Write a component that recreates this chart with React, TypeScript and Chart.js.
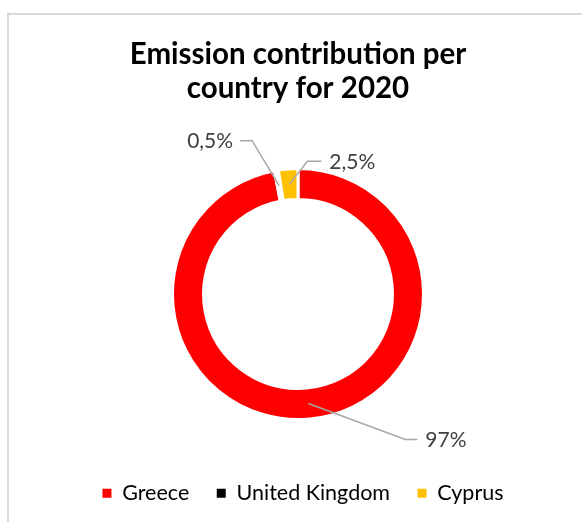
import React, { useEffect, useRef } from "react";
import { Chart, registerables } from "chart.js";

Chart.register(...registerables);

const categories = ["Greece", "United Kingdom", "Cyprus"];
const shares = [97, 0.5, 2.5];
const titleLines = ["Emission contribution per", "country for 2020"];

const sliceColors = ["#ff0000", "#ffffff", "#ffc000"];
const legendColors = ["#ff0000", "#000000", "#ffc000"];

const fmt = (v: number) => String(v).replace(".", ",") + "%";

const leaderPlugin = {
  id: "leaderLabels",
  afterLayout(chart: any, _args: any, opts: any) {
    if (chart.legend) {
      chart.legend.left += opts.legendShift;
      chart.legend.right += opts.legendShift;
    }
  },
  afterDatasetsDraw(chart: any, _args: any, opts: any) {
    const ctx = chart.ctx;
    const meta = chart.getDatasetMeta(0);
    const data = chart.data.datasets[0].data as number[];
    meta.data.forEach((arc: any, i: number) => {
      const p = arc.getProps(["x", "y", "startAngle", "endAngle", "innerRadius", "outerRadius"], true);
      const mid = (p.startAngle + p.endAngle) / 2;
      const r = (p.innerRadius + p.outerRadius) / 2;
      const ax = p.x + r * Math.cos(mid);
      const ay = p.y + r * Math.sin(mid);
      const o = opts.leaders[i];
      const ex = ax + o.dx;
      const ey = ay + o.dy;
      const hx = ex + o.h;
      ctx.save();
      ctx.strokeStyle = "#a6a6a6";
      ctx.lineWidth = 1.5;
      ctx.beginPath();
      ctx.moveTo(ax, ay);
      ctx.lineTo(ex, ey);
      ctx.lineTo(hx, ey);
      ctx.stroke();
      ctx.fillStyle = "#404040";
      ctx.font = "21px Lato";
      ctx.textBaseline = "middle";
      ctx.textAlign = o.h >= 0 ? "left" : "right";
      ctx.fillText(fmt(data[i]), hx + (o.h >= 0 ? 8 : -7), ey + 1);
      ctx.restore();
    });
  },
};

export default function App() {
  const ref = useRef<HTMLCanvasElement>(null);
  useEffect(() => {
    if (!ref.current) return;
    const chart = new Chart(ref.current, {
      type: "doughnut",
      data: {
        labels: categories,
        datasets: [
          {
            data: shares,
            backgroundColor: sliceColors,
            borderColor: "#ffffff",
            borderWidth: 3,
          },
        ],
      },
      options: {
        responsive: false,
        animation: false,
        devicePixelRatio: 1,
        radius: 125.5,
        cutout: "75.3%",
        layout: { padding: { left: 14, right: 0, top: 0, bottom: 0 } },
        plugins: {
          tooltip: { enabled: false },
          title: {
            display: true,
            text: titleLines,
            color: "#000000",
            font: { family: "Lato", size: 29.5, weight: "bold", lineHeight: 34 / 29.5 },
            padding: { top: 37.5, bottom: 27.5 },
          },
          legend: {
            position: "bottom",
            labels: {
              color: "#595959",
              font: { family: "Lato", size: 21.5 },
              boxWidth: 9,
              boxHeight: 9,
              padding: 27.5,
              generateLabels: (c: any) =>
                c.data.labels.map((l: string, i: number) => ({
                  text: l,
                  fillStyle: legendColors[i],
                  strokeStyle: legendColors[i],
                  lineWidth: 0,
                  hidden: false,
                  index: i,
                })),
            },
          },
          leaderLabels: {
            legendShift: 5,
            leaders: [
              { dx: 97, dy: 36, h: 12 },
              { dx: -27, dy: -45, h: -12 },
              { dx: 18, dy: -23, h: 14 },
            ],
          },
        } as any,
      },
      plugins: [leaderPlugin],
    });
    return () => chart.destroy();
  }, []);
  return (
    <div
      style={{
        position: "fixed",
        left: 0,
        top: 0,
        width: 582,
        height: 522,
        overflow: "hidden",
        background: "#ffffff",
      }}
    >
      <div
        style={{
          position: "absolute",
          left: 7,
          top: 13,
          width: 800,
          height: 800,
          borderTop: "2px solid #d9d9d9",
          borderLeft: "2px solid #d9d9d9",
        }}
      />
      <canvas
        ref={ref}
        width={582}
        height={514}
        style={{ position: "absolute", left: 0, top: 0, width: 582, height: 514 }}
      />
    </div>
  );
}
